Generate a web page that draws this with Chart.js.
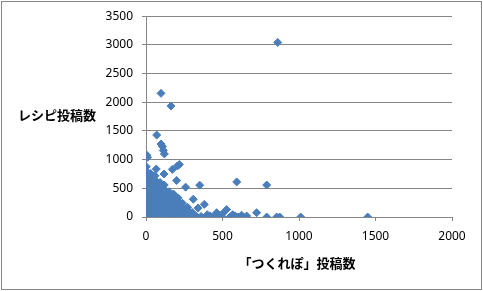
<!DOCTYPE html>
<html>
<head>
<meta charset="utf-8">
<script src="https://cdn.jsdelivr.net/npm/chart.js@4.4.0/dist/chart.umd.min.js"></script>
<style>
  html, body { margin: 0; padding: 0; background: #fff; }
  #wrap { width: 483px; height: 291px; }
</style>
</head>
<body>
<div id="wrap"><canvas id="scatter" width="483" height="291"></canvas></div>
<script>
// 「つくれぽ」投稿数 (x) と レシピ投稿数 (y)
// dense group near the origin
const clusterX = [
    2, 2, 2, 2, 2, 2, 2, 2, 2, 2, 2, 2,
    31, 29, 31, 30, 28, 31, 30, 29, 31, 30, 33,
    58, 61, 60, 59, 62, 60, 58, 61, 60, 59,
    92, 89, 91, 90, 88, 91, 90, 92, 89,
    121, 119, 120, 122, 118, 121, 120, 119,
    151, 149, 150, 152, 148, 151, 150,
    179, 181, 180, 178, 181, 180,
    211, 209, 210, 208, 212, 210,
    239, 241, 240, 238,
    271, 269, 268, 272,
    298, 302,
    331
];
const clusterY = [
    0, 78, 161, 240, 322, 398, 481, 559, 642, 718, 801, 878,
    40, 121, 198, 282, 361, 439, 522, 598, 681, 758, 5,
    0, 82, 160, 239, 321, 402, 478, 561, 640, 719,
    41, 118, 202, 279, 362, 440, 519, 601, 3,
    0, 81, 158, 242, 319, 401, 479, 558,
    39, 122, 199, 281, 358, 441, 2,
    0, 79, 162, 238, 321, 399,
    42, 119, 201, 278, 4, 332,
    0, 82, 159, 241,
    38, 121, 0, 168,
    0, 79,
    10
];
// scattered posts away from the group
const spreadX = [
    861, 98, 163, 70, 98, 107, 113, 120, 4, 10,
    67, 118, 172, 205, 218, 200, 259, 351, 593, 789,
    309, 381, 340, 386, 418, 440, 472, 494, 462, 527,
    549, 582, 603, 625, 658, 723, 789, 854, 874, 1011,
    1449, 566, 500, 400, 360
];
const spreadY = [
    3043, 2155, 1934, 1428, 1272, 1230, 1160, 1100, 1080, 1040,
    836, 750, 830, 890, 915, 637, 520, 555, 612, 557,
    310, 220, 155, 0, 20, 0, 30, 10, 75, 130,
    0, 20, 0, 30, 17, 75, 0, 0, 0, 0,
    0, 40, 55, 40, 10
];

const xTicks = [0, 500, 1000, 1500, 2000];
const yTicks = [0, 500, 1000, 1500, 2000, 2500, 3000, 3500];

const xTitle = '「つくれぽ」投稿数';
const yTitle = 'レシピ投稿数';

const points = clusterX.map((x, i) => ({ x: x, y: clusterY[i] }))
    .concat(spreadX.map((x, i) => ({ x: x, y: spreadY[i] })));

const gray = '#868686';
const tickFont = { family: 'Noto Sans', size: 12 };

// frame + horizontal axis titles (Excel style)
const excelFrame = {
    id: 'excelFrame',
    beforeDraw(chart) {
        const ctx = chart.ctx;
        ctx.save();
        ctx.fillStyle = '#fff';
        ctx.fillRect(0, 0, chart.width, chart.height);
        ctx.strokeStyle = gray;
        ctx.lineWidth = 1;
        ctx.strokeRect(1.5, 1.5, 480, 288);
        ctx.restore();
    },
    afterDraw(chart) {
        const ctx = chart.ctx;
        ctx.save();
        ctx.fillStyle = '#000';
        ctx.font = 'bold 13px "Noto Sans CJK JP"';
        ctx.textAlign = 'center';
        ctx.textBaseline = 'middle';
        ctx.fillText(yTitle, 57, 115);
        ctx.fillText(xTitle, 297, 263);
        ctx.restore();
    }
};

const ctx = document.getElementById('scatter').getContext('2d');
new Chart(ctx, {
    type: 'scatter',
    data: {
        datasets: [{
            label: 'レシピ',
            data: points,
            pointStyle: 'rectRot',
            pointRadius: 4,
            borderWidth: 1,
            backgroundColor: '#4a7ebb',
            borderColor: '#4a7ebb'
        }]
    },
    options: {
        responsive: false,
        animation: false,
        events: [],
        layout: { padding: { left: 100, right: 31, top: 16, bottom: 44 } },
        plugins: { legend: { display: false }, tooltip: { enabled: false } },
        scales: {
            x: {
                type: 'linear',
                min: xTicks[0],
                max: xTicks[xTicks.length - 1],
                afterBuildTicks(scale) { scale.ticks = xTicks.map(v => ({ value: v })); },
                afterFit(scale) { scale.height = 30; },
                ticks: { color: '#000', font: tickFont, padding: 8, maxRotation: 0, callback: v => String(v) },
                grid: { drawOnChartArea: false, drawTicks: true, tickLength: 4, color: gray },
                border: { color: gray }
            },
            y: {
                min: yTicks[0],
                max: yTicks[yTicks.length - 1],
                afterBuildTicks(scale) { scale.ticks = yTicks.map(v => ({ value: v })); },
                afterFit(scale) { scale.width = 46; },
                ticks: { color: '#000', font: tickFont, padding: 9, callback: v => String(v) },
                grid: { color: gray, tickLength: 4 },
                border: { color: gray }
            }
        }
    },
    plugins: [excelFrame]
});
</script>
</body>
</html>
